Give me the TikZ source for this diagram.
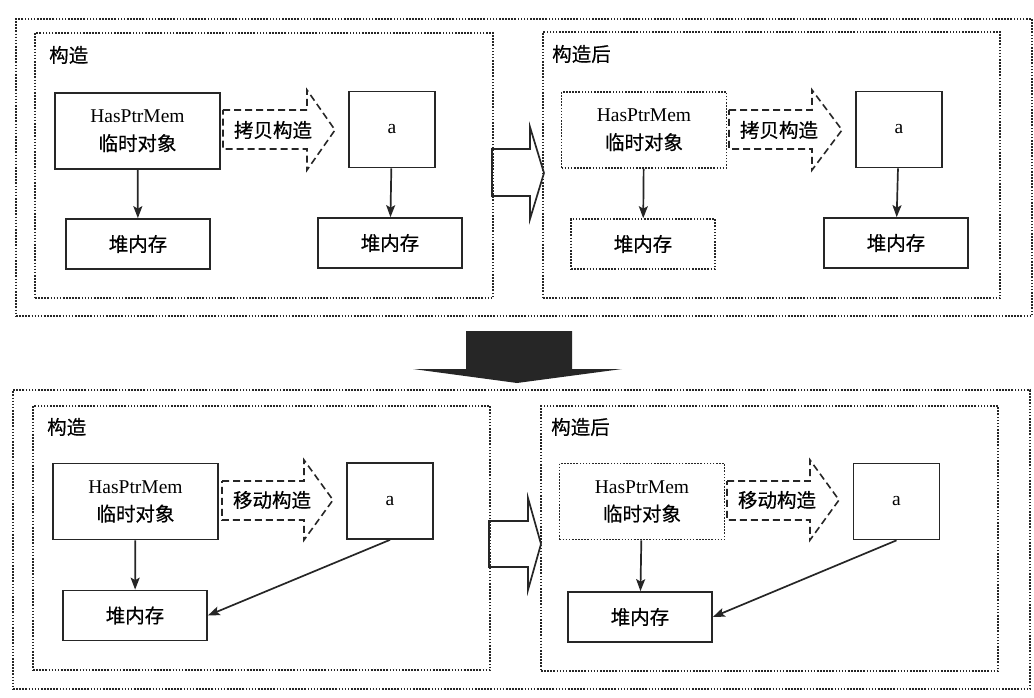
\documentclass[tikz,border=0pt]{standalone}
\usepackage{fontspec}
\setmainfont{Liberation Serif}
\newfontfamily\cjk{Noto Sans CJK SC}[FakeBold=0.5]
\usetikzlibrary{arrows.meta}
\definecolor{inkgray}{RGB}{38,38,38}
\tikzset{every path/.style={line join=miter}}

\begin{document}
\begin{tikzpicture}[
    x=1pt, y=-1pt,
    >={Stealth[length=12pt, width=9pt, inset=2.5pt]},
    font=\cjk\fontsize{19.5}{28}\selectfont,
    box/.style={
        draw=inkgray,
        line width=1.7pt,
        align=center,
        inner sep=0pt,
        font=\cjk\fontsize{19.5}{28}\selectfont
    },
    ghost/.style={box, line width=1.6pt, dash pattern=on 1.6pt off 1.5pt},
    tmpbox/.style={minimum width=165pt, minimum height=76pt},
    abox/.style={minimum width=86pt, minimum height=76pt},
    heapbox/.style={minimum width=144pt, minimum height=50pt},
    frame/.style={draw=inkgray, line width=1.6pt, dash pattern=on 1.6pt off 1.5pt, inner sep=0pt},
    tag/.style={anchor=west, inner sep=0pt},
    hollow/.style={draw=inkgray, line width=1.7pt},
    moveshape/.style={draw=inkgray, line width=1.6pt, dash pattern=on 7pt off 4pt},
    link/.style={->, draw=inkgray, line width=1.7pt}
]
\useasboundingbox (0,0) rectangle (1034,698);

% frames
\node[frame, minimum width=1016pt, minimum height=297pt] (topOuter) at (524,167.5) {};
\node[frame, minimum width=458pt, minimum height=265pt] (topL) at (264,165.5) {};
\node[frame, minimum width=457pt, minimum height=266pt] (topR) at (771.5,165) {};
\node[frame, minimum width=1017pt, minimum height=299pt] (botOuter) at (521.5,539.5) {};
\node[frame, minimum width=457pt, minimum height=264pt] (botL) at (261.5,538) {};
\node[frame, minimum width=457pt, minimum height=265pt] (botR) at (769.5,538.5) {};

\node[tag] (tagTL) at (49,55) {构造};
\node[tag] (tagTR) at (552,54) {构造后};
\node[tag] (tagBL) at (47,427) {构造};
\node[tag] (tagBR) at (551,427) {构造后};

% copy construction
\node[box, tmpbox] (tmpTL) at (137.5,131) {{\rmfamily HasPtrMem}\\临时对象};
\node[box, abox] (aTL) at (392,129.5) {\rmfamily a};
\node[box, heapbox] (heapTL) at (138,244) {堆内存};
\node[box, heapbox] (heapTLa) at (390,243) {堆内存};
\draw[moveshape] (223,110) -- (307,110) -- (307,90) -- (335,130) -- (307,170) -- (307,149) -- (223,149) -- cycle;
\node (copyTL) at (273,130) {拷贝构造};
\draw[link] (tmpTL) -- (heapTL);
\draw[link] (aTL) -- (heapTLa);

\draw[hollow] (492,149) -- (530,149) -- (530,127) -- (544,173) -- (530,219) -- (530,196) -- (492,196) -- cycle;

\node[ghost, tmpbox] (tmpTR) at (644,130) {{\rmfamily HasPtrMem}\\临时对象};
\node[box, abox] (aTR) at (899,129.5) {\rmfamily a};
\node[ghost, heapbox] (heapTR) at (643,244) {堆内存};
\node[box, heapbox] (heapTRa) at (896,243) {堆内存};
\draw[moveshape] (729,110) -- (812,110) -- (812,90) -- (842,130) -- (812,170) -- (812,149) -- (729,149) -- cycle;
\node (copyTR) at (779,130) {拷贝构造};
\draw[link] (tmpTR) -- (heapTR);
\draw[link] (aTR) -- (heapTRa);

% big arrow
\fill[inkgray] (466,331) -- (572,331) -- (572,369) -- (622,369) -- (517,383) -- (413,369) -- (466,369) -- cycle;

% move construction
\node[box, tmpbox] (tmpBL) at (135.5,501.5) {{\rmfamily HasPtrMem}\\临时对象};
\node[box, abox] (aBL) at (390,501) {\rmfamily a};
\node[box, heapbox] (heapBL) at (135,615.5) {堆内存};
\draw[moveshape] (222,481) -- (304,481) -- (304,460) -- (333,500) -- (304,540) -- (304,520) -- (222,520) -- cycle;
\node (moveBL) at (272,500) {移动构造};
\draw[link] (tmpBL) -- (heapBL);
\draw[link] (aBL.south) -- (heapBL.east);

\draw[hollow] (489,521) -- (528,521) -- (528,498) -- (541,544) -- (528,590) -- (528,567) -- (489,567) -- cycle;

\node[ghost, tmpbox] (tmpBR) at (642,501.5) {{\rmfamily HasPtrMem}\\临时对象};
\node[box, abox] (aBR) at (896.5,501.5) {\rmfamily a};
\node[box, heapbox] (heapBR) at (640,617) {堆内存};
\draw[moveshape] (727,481) -- (810,481) -- (810,460) -- (839,500) -- (810,540) -- (810,520) -- (727,520) -- cycle;
\node (moveBR) at (777,500) {移动构造};
\draw[link] (tmpBR) -- (heapBR);
\draw[link] (aBR.south) -- (heapBR.east);

\end{tikzpicture}
\end{document}
